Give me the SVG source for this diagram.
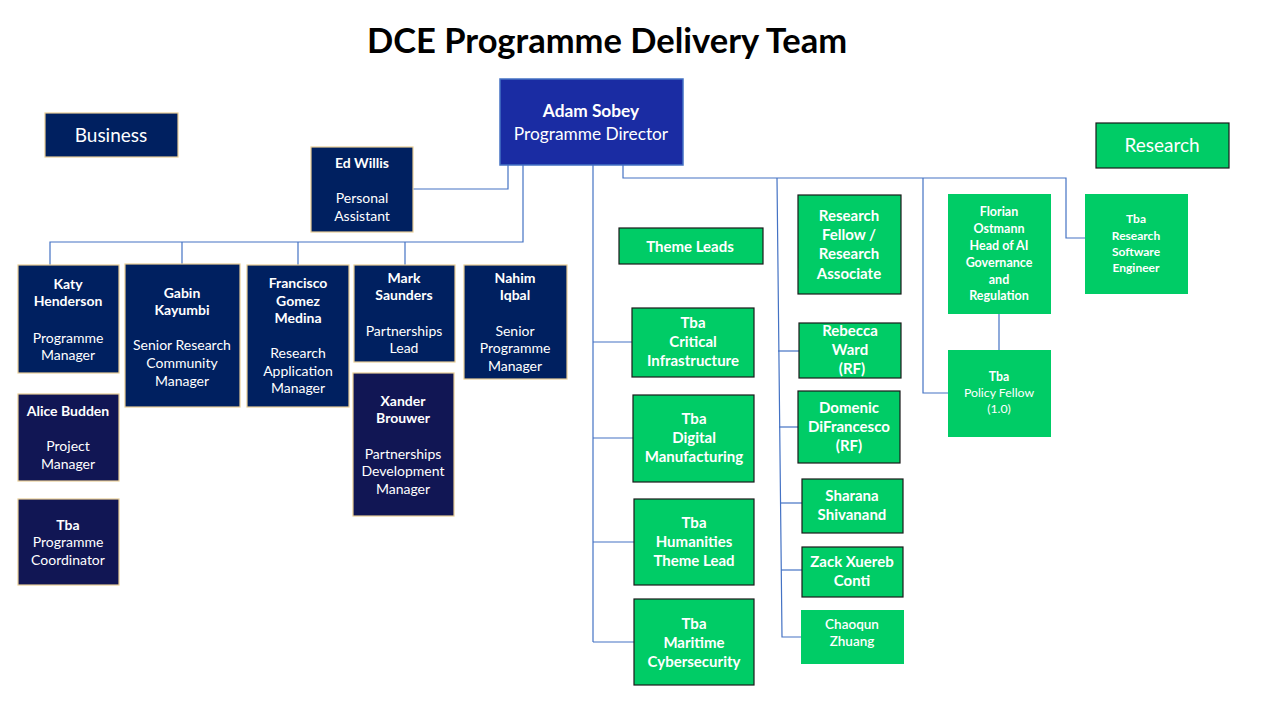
<svg xmlns="http://www.w3.org/2000/svg" width="1280" height="720" viewBox="0 0 1280 720">
<style>
text{font-family:Lato,"Open Sans","Liberation Sans",sans-serif;fill:#fff;text-anchor:middle}
.b{font-weight:bold}
.navy{fill:#002060;stroke:#E8CE96;stroke-width:1.2}
.navy2{fill:#111654;stroke:#E8CE96;stroke-width:1.2}
.grn{fill:#00CC66}
.grnk{fill:#00CC66;stroke:#1a1a1a;stroke-width:1.2}
.t15{font-size:15px}
.t14{font-size:14px}
.t125{font-size:12.5px}
.t12{font-size:12px}
.conn{fill:none;stroke:#4472C4;stroke-width:1.2}
</style>
<rect width="1280" height="720" fill="#fff"/>
<text x="607" y="53" class="b" style="font-size:34.5px;fill:#000">DCE Programme Delivery Team</text>

<g id="connectors" class="conn">
<path d="M413,189 H508 V165"/>
<path d="M523,165 V242 H50 V265"/>
<path d="M182,242 V264"/>
<path d="M298,242 V265"/>
<path d="M405,242 V265"/>
<path d="M593,165 V642"/>
<path d="M593,342 H632"/>
<path d="M593,438 H633"/>
<path d="M593,542 H634"/>
<path d="M593,642 H634"/>
<path d="M623,165 V178 H1066 V238 H1085"/>
<path d="M777,178 L782,637 H801"/>
<path d="M778,351 H799"/>
<path d="M779,427 H798"/>
<path d="M780,503 H802"/>
<path d="M781,570 H802"/>
<path d="M923,178 V393 H948"/>
<path d="M999,314 V350"/>
</g>

<g id="business">
<rect x="45" y="113" width="133" height="44" class="navy"/>
<text x="111" y="142" style="font-size:19px">Business</text>
</g>

<g id="research">
<rect x="1096" y="123" width="133" height="45" class="grnk"/>
<text x="1162" y="152" style="font-size:19px">Research</text>
</g>

<g id="adam">
<rect x="500" y="79" width="183" height="86" fill="#1A2CA3" stroke="#4472C4" stroke-width="1.5"/>
<text x="591" y="117" class="b" style="font-size:17.3px">Adam Sobey</text>
<text x="591" y="140" style="font-size:17.3px">Programme Director</text>
</g>

<g id="ed" class="t14">
<rect x="311" y="147" width="102" height="85" class="navy"/>
<text x="362" y="168" class="b">Ed Willis</text>
<text x="362" y="203">Personal</text>
<text x="362" y="221">Assistant</text>
</g>

<g id="katy" class="t14">
<rect x="18" y="265" width="101" height="108" class="navy"/>
<text x="68" y="289" class="b">Katy</text>
<text x="68" y="306" class="b">Henderson</text>
<text x="68" y="343">Programme</text>
<text x="68" y="360">Manager</text>
</g>

<g id="gabin" class="t14">
<rect x="125" y="264" width="115" height="143" class="navy"/>
<text x="182" y="298" class="b">Gabin</text>
<text x="182" y="315" class="b">Kayumbi</text>
<text x="182" y="350">Senior Research</text>
<text x="182" y="368">Community</text>
<text x="182" y="386">Manager</text>
</g>

<g id="francisco" class="t14">
<rect x="247" y="265" width="102" height="142" class="navy"/>
<text x="298" y="288" class="b">Francisco</text>
<text x="298" y="306" class="b">Gomez</text>
<text x="298" y="323" class="b">Medina</text>
<text x="298" y="358">Research</text>
<text x="298" y="376">Application</text>
<text x="298" y="393">Manager</text>
</g>

<g id="mark" class="t14">
<rect x="354" y="265" width="101" height="97" class="navy"/>
<text x="404" y="283" class="b">Mark</text>
<text x="404" y="300" class="b">Saunders</text>
<text x="404" y="336">Partnerships</text>
<text x="404" y="353">Lead</text>
</g>

<g id="xander" class="t14">
<rect x="353" y="373" width="101" height="143" class="navy2"/>
<text x="403" y="406" class="b">Xander</text>
<text x="403" y="423" class="b">Brouwer</text>
<text x="403" y="459">Partnerships</text>
<text x="403" y="476">Development</text>
<text x="403" y="494">Manager</text>
</g>

<g id="nahim" class="t14">
<rect x="464" y="265" width="103" height="114" class="navy"/>
<text x="515" y="283" class="b">Nahim</text>
<text x="515" y="300" class="b">Iqbal</text>
<text x="515" y="336">Senior</text>
<text x="515" y="353">Programme</text>
<text x="515" y="371">Manager</text>
</g>

<g id="alice" class="t14">
<rect x="18" y="394" width="101" height="87" class="navy2"/>
<text x="68" y="416" class="b">Alice Budden</text>
<text x="68" y="451">Project</text>
<text x="68" y="469">Manager</text>
</g>

<g id="coordinator" class="t14">
<rect x="18" y="499" width="101" height="86" class="navy2"/>
<text x="68" y="530" class="b">Tba</text>
<text x="68" y="547">Programme</text>
<text x="68" y="565">Coordinator</text>
</g>

<g id="themeleads" class="t15">
<rect x="619" y="228" width="144" height="36" class="grnk"/>
<text x="690" y="252" class="b">Theme Leads</text>
</g>

<g id="critical" class="t15">
<rect x="632" y="308" width="122" height="69" class="grnk"/>
<text x="693" y="328" class="b">Tba</text>
<text x="693" y="347" class="b">Critical</text>
<text x="693" y="366" class="b">Infrastructure</text>
</g>

<g id="digital" class="t15">
<rect x="633" y="395" width="121" height="87" class="grnk"/>
<text x="694" y="424" class="b">Tba</text>
<text x="694" y="443" class="b">Digital</text>
<text x="694" y="462" class="b">Manufacturing</text>
</g>

<g id="humanities" class="t15">
<rect x="634" y="499" width="120" height="86" class="grnk"/>
<text x="694" y="528" class="b">Tba</text>
<text x="694" y="547" class="b">Humanities</text>
<text x="694" y="566" class="b">Theme Lead</text>
</g>

<g id="maritime" class="t15">
<rect x="634" y="599" width="120" height="86" class="grnk"/>
<text x="694" y="629" class="b">Tba</text>
<text x="694" y="648" class="b">Maritime</text>
<text x="694" y="667" class="b">Cybersecurity</text>
</g>

<g id="rfra" class="t15">
<rect x="798" y="195" width="103" height="99" class="grnk"/>
<text x="849" y="221" class="b">Research</text>
<text x="849" y="240" class="b">Fellow /</text>
<text x="849" y="259" class="b">Research</text>
<text x="849" y="279" class="b">Associate</text>
</g>

<g id="rebecca" class="t15">
<rect x="799" y="323" width="102" height="55" class="grnk"/>
<text x="850" y="336" class="b">Rebecca</text>
<text x="850" y="355" class="b">Ward</text>
<text x="852" y="374" class="b">(RF)</text>
</g>

<g id="domenic" class="t15">
<rect x="798" y="391" width="102" height="72" class="grnk"/>
<text x="849" y="413" class="b">Domenic</text>
<text x="849" y="432" class="b">DiFrancesco</text>
<text x="849" y="451" class="b">(RF)</text>
</g>

<g id="sharana" class="t15">
<rect x="802" y="479" width="101" height="54" class="grnk"/>
<text x="852" y="501" class="b">Sharana</text>
<text x="852" y="520" class="b">Shivanand</text>
</g>

<g id="zack" class="t15">
<rect x="802" y="547" width="101" height="50" class="grnk"/>
<text x="852" y="567" class="b">Zack Xuereb</text>
<text x="852" y="586" class="b">Conti</text>
</g>

<g id="chaoqun" style="font-size:13.5px">
<rect x="801" y="610" width="103" height="54" class="grn"/>
<text x="852" y="629" style="font-weight:600">Chaoqun</text>
<text x="852" y="646" style="font-weight:600">Zhuang</text>
</g>

<g id="florian" class="t125">
<rect x="948" y="194" width="103" height="120" class="grn"/>
<text x="999" y="216" class="b">Florian</text>
<text x="999" y="233" class="b">Ostmann</text>
<text x="999" y="250" class="b">Head of AI</text>
<text x="999" y="267" class="b">Governance</text>
<text x="999" y="284" class="b">and</text>
<text x="999" y="300" class="b">Regulation</text>
</g>

<g id="policy" style="font-size:12.3px">
<rect x="948" y="350" width="103" height="87" class="grn"/>
<text x="999" y="381" class="b">Tba</text>
<text x="999" y="397">Policy Fellow</text>
<text x="999" y="413">(1.0)</text>
</g>

<g id="rse" class="t12">
<rect x="1085" y="194" width="103" height="100" class="grn"/>
<text x="1136" y="223" class="b">Tba</text>
<text x="1136" y="240" class="b">Research</text>
<text x="1136" y="256" class="b">Software</text>
<text x="1136" y="272" class="b">Engineer</text>
</g>
</svg>
